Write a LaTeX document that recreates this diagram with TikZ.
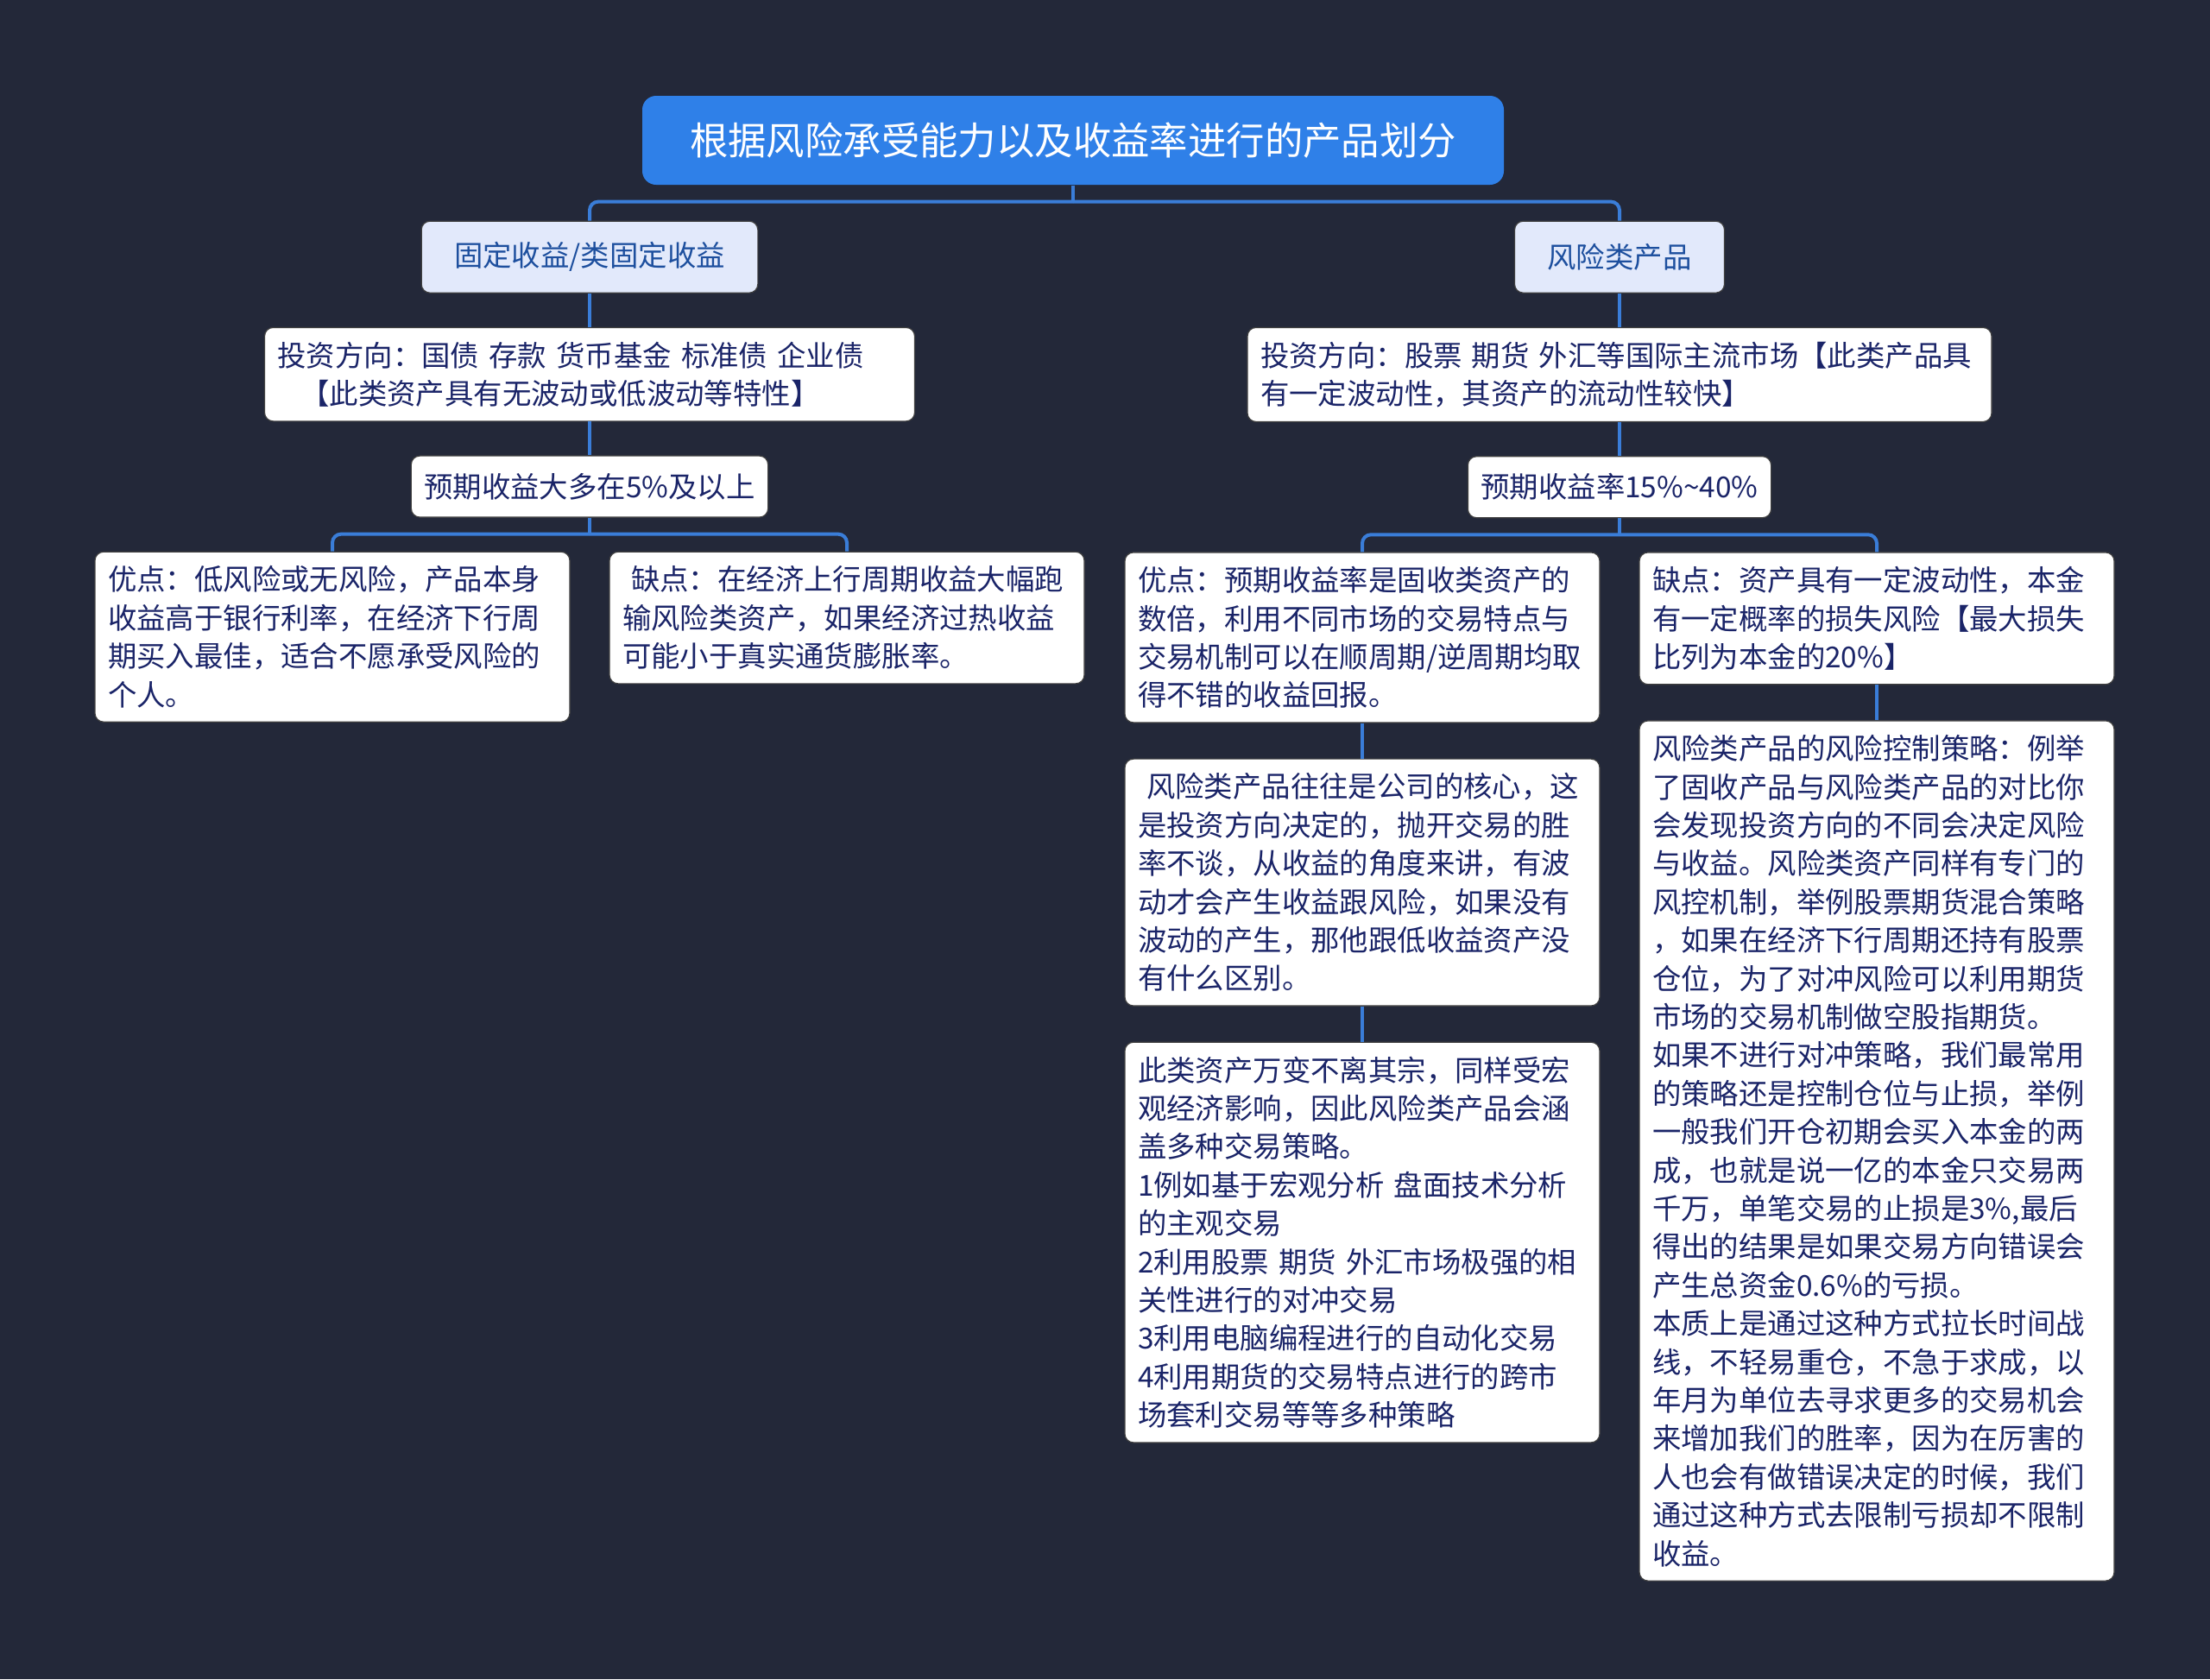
\documentclass[tikz,border=0pt]{standalone}
\usepackage{fontspec}
\setmainfont{Noto Sans CJK SC}
\usepackage{tikz}
\usetikzlibrary{positioning}
\definecolor{bgdark}{HTML}{232839}
\definecolor{rootblue}{HTML}{2F80E8}
\definecolor{linkblue}{HTML}{3A7DD8}
\definecolor{subfill}{HTML}{E2E9FB}
\definecolor{subtext}{HTML}{1D4F9E}
\definecolor{bodytext}{HTML}{1A2468}

\begin{document}
\begin{tikzpicture}[x=1pt,y=1pt, every node/.style={rounded corners=5pt,inner ysep=8.2pt,inner xsep=7.5pt,font=\fontsize{16.7}{22.2}\selectfont,text=bodytext,fill=white,draw=black!75,line width=0.6pt}, sub/.style={fill=subfill,text=subtext,inner xsep=19pt,minimum height=41.5pt}, note/.style={align=left,text width=#1}, rate/.style={minimum height=35.5pt}, link/.style={draw=linkblue,line width=2pt,rounded corners=5pt}]
\fill[bgdark] (0,0) rectangle (1280,-972.5);
\useasboundingbox (0,0) rectangle (1280,-972.5);
\node (root) at (621.5,-81.25) [fill=rootblue,text=white,draw=none,minimum width=499pt,minimum height=51.5pt,rounded corners=8pt,font=\fontsize{22.2}{26}\selectfont] {根据风险承受能力以及收益率进行的产品划分};
\node (fixL) [sub,below=20.5pt of root,xshift=-280pt] {固定收益/类固定收益}; \node (riskP) [sub,below=20.5pt of root,xshift=316.5pt] {风险类产品};
\node (invL) [note=361.5pt,below=19.5pt of fixL] {投资方向：国债 存款 货币基金 标准债 企业债\\\hspace*{0.8em}【此类资产具有无波动或低波动等特性】};
\node (invR) [note=416pt,below=19.5pt of riskP] {投资方向：股票 期货 外汇等国际主流市场【此类产品具\\有一定波动性，其资产的流动性较快】};
\node (expL) [rate,below=19.5pt of invL] {预期收益大多在5\%及以上}; \node (expR) [rate,below=19.5pt of invR] {预期收益率15\%\textasciitilde40\%};
\node (proL) [note=260pt,below=19.5pt of expL,xshift=-149pt] {优点：低风险或无风险，产品本身\\收益高于银行利率，在经济下行周\\期买入最佳，适合不愿承受风险的\\个人。};
\node (conL) [note=260pt,below=19.5pt of expL,xshift=149pt] {\hspace*{0.3em}缺点：在经济上行周期收益大幅跑\\输风险类资产，如果经济过热收益\\可能小于真实通货膨胀率。};
\node (proR) [note=260pt,below=19.5pt of expR,xshift=-149pt] {优点：预期收益率是固收类资产的\\数倍，利用不同市场的交易特点与\\交易机制可以在顺周期/逆周期均取\\得不错的收益回报。};
\node (conR) [note=260pt,below=19.5pt of expR,xshift=149pt] {缺点：资产具有一定波动性，本金\\有一定概率的损失风险【最大损失\\比列为本金的20\%】};
\node (core) [note=260pt,below=20.5pt of proR] {\hspace*{0.3em}风险类产品往往是公司的核心，这\\是投资方向决定的，抛开交易的胜\\率不谈，从收益的角度来讲，有波\\动才会产生收益跟风险，如果没有\\波动的产生，那他跟低收益资产没\\有什么区别。};
\node (mix) [note=260pt,below=20.5pt of core] {此类资产万变不离其宗，同样受宏\\观经济影响，因此风险类产品会涵\\盖多种交易策略。\\1例如基于宏观分析 盘面技术分析\\的主观交易\\2利用股票 期货 外汇市场极强的相\\关性进行的对冲交易\\3利用电脑编程进行的自动化交易\\4利用期货的交易特点进行的跨市\\场套利交易等等多种策略};
\node (ctrl) [note=260pt,below=20.5pt of conR] {风险类产品的风险控制策略：例举\\了固收产品与风险类产品的对比你\\会发现投资方向的不同会决定风险\\与收益。风险类资产同样有专门的\\风控机制，举例股票期货混合策略\\，如果在经济下行周期还持有股票\\仓位，为了对冲风险可以利用期货\\市场的交易机制做空股指期货。\\如果不进行对冲策略，我们最常用\\的策略还是控制仓位与止损，举例\\一般我们开仓初期会买入本金的两\\成，也就是说一亿的本金只交易两\\千万，单笔交易的止损是3\%,最后\\得出的结果是如果交易方向错误会\\产生总资金0.6\%的亏损。\\本质上是通过这种方式拉长时间战\\线，不轻易重仓，不急于求成，以\\年月为单位去寻求更多的交易机会\\来增加我们的胜率，因为在厉害的\\人也会有做错误决定的时候，我们\\通过这种方式去限制亏损却不限制\\收益。};
\draw[link] (root.south)--++(0,-9.5) coordinate (rootJ); \draw[link] (rootJ)-|(fixL.north); \draw[link] (rootJ)-|(riskP.north);
\draw[link] (fixL)--(invL); \draw[link] (invL)--(expL); \draw[link] (riskP)--(invR); \draw[link] (invR)--(expR);
\draw[link] (expL.south)--++(0,-9.5) coordinate (expLJ); \draw[link] (expLJ)-|(proL.north); \draw[link] (expLJ)-|(conL.north);
\draw[link] (expR.south)--++(0,-9.5) coordinate (expRJ); \draw[link] (expRJ)-|(proR.north); \draw[link] (expRJ)-|(conR.north);
\draw[link] (proR)--(core); \draw[link] (core)--(mix); \draw[link] (conR)--(ctrl);
\end{tikzpicture}
\end{document}
